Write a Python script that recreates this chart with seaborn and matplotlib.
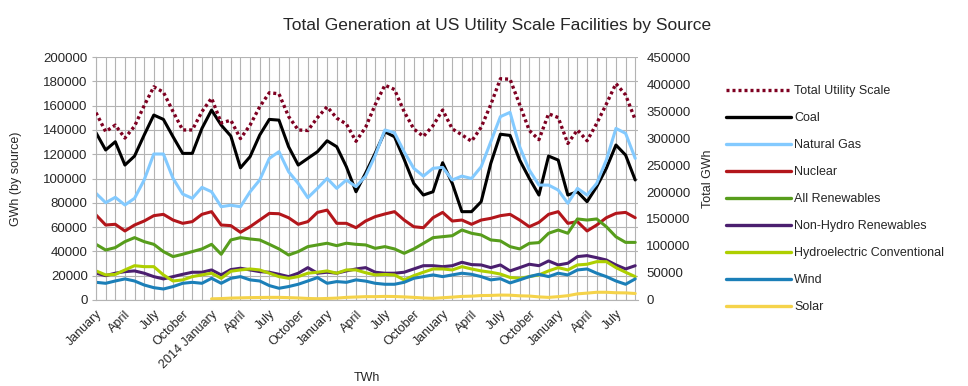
import numpy as np
import pandas as pd
import matplotlib
matplotlib.use("Agg")
import matplotlib.pyplot as plt
import seaborn as sns

# Monthly values, January 2013 - September 2017 (GWh)
total = [347000, 312000, 324000, 300000, 322000, 360000, 395000, 385000, 349000, 315000, 315000, 349000,
         374000, 328000, 333000, 299000, 324000, 358000, 384000, 382000, 340000, 315000, 314000, 338000,
         358000, 337000, 326000, 294000, 320000, 362000, 398000, 390000, 349000, 317000, 303000, 323000,
         352000, 317000, 306000, 294000, 320000, 362000, 410000, 409000, 362000, 314000, 297000, 345000,
         338000, 290000, 315000, 295000, 327000, 363000, 401000, 380000, 334000]
coal = [137700, 123500, 130300, 111100, 118500, 135800, 152300, 148700, 134400, 120700, 120700, 141300,
        156400, 144000, 135000, 108800, 118000, 135800, 148700, 148100, 126200, 111100, 116600, 122100,
        131100, 126200, 109700, 89100, 104500, 121000, 138500, 134400, 115800, 96000, 86400, 89100,
        113000, 96000, 72700, 72700, 80900, 112500, 136500, 135500, 115200, 100100, 86400, 118500,
        115200, 86400, 89100, 80900, 93300, 108400, 127600, 119300, 98800]
natural_gas = [87800, 80100, 84500, 78200, 83700, 98800, 120200, 120200, 100100, 87200, 83700, 92700,
               89100, 76800, 78000, 76800, 89100, 98800, 116600, 122100, 105600, 96000, 84200, 91900,
               100100, 91900, 98800, 93300, 102000, 119000, 140000, 137700, 122000, 108400, 102000, 108400,
               109200, 98800, 102000, 100000, 109700, 130300, 151000, 154500, 126200, 107000, 94600, 94600,
               90500, 79600, 91900, 86400, 96000, 115200, 141300, 137200, 116600]
nuclear = [70000, 61700, 62300, 56800, 61700, 65000, 69400, 70500, 65800, 63100, 64500, 70500,
           72700, 61700, 61200, 55700, 60300, 65800, 71300, 71000, 67700, 62300, 64500, 72100,
           74000, 63100, 63100, 59500, 65000, 68600, 70800, 72700, 65800, 60300, 59500, 67700,
           72100, 65000, 65800, 62300, 65800, 67200, 69400, 70500, 65800, 60300, 63900, 70500,
           72700, 63100, 64500, 56800, 61700, 67700, 71300, 72100, 67700]
all_renewables = [45800, 41100, 43100, 48000, 51300, 48000, 45800, 39800, 35700, 37600, 39800, 42000,
                  45800, 37600, 49400, 51300, 50200, 49400, 45800, 42000, 37000, 39800, 43900, 45300,
                  46700, 44700, 46700, 45800, 45300, 42500, 43900, 42000, 38400, 42000, 46600, 51300,
                  52100, 52900, 57600, 54900, 53500, 49400, 48600, 43900, 42000, 46600, 47200, 54900,
                  57600, 54900, 66700, 65800, 66700, 60300, 52000, 47400, 47400]
non_hydro = [22000, 20000, 22000, 23300, 23900, 22000, 19200, 17300, 19200, 21100, 22800, 22800,
             24700, 20600, 25000, 26100, 24700, 23300, 22800, 21100, 19200, 22000, 26600, 22000,
             22800, 22000, 23900, 25500, 26600, 22800, 22000, 22000, 22800, 25500, 28200, 28200,
             27400, 28200, 31000, 29100, 28800, 26600, 28800, 23900, 26600, 29400, 28200, 32100,
             28800, 30200, 35700, 36500, 34800, 32900, 28800, 25500, 28200]
hydro = [23900, 20600, 21000, 24700, 28200, 27400, 27400, 20600, 15600, 16500, 19200, 20600,
         22000, 17800, 23600, 24700, 25500, 24700, 22000, 19200, 17800, 19200, 22000, 22800,
         23900, 22000, 24700, 24700, 22400, 20600, 21000, 20600, 16500, 20000, 22800, 25500,
         25500, 24700, 27400, 25500, 23900, 22800, 21300, 18500, 17800, 19200, 20600, 23900,
         26600, 24700, 28800, 29400, 31500, 31500, 26600, 22800, 19200]
wind = [14500, 13700, 15600, 17300, 15600, 12300, 10100, 9000, 11000, 13700, 14500, 13700,
        17800, 13700, 17800, 19200, 16500, 15600, 11800, 9600, 11000, 12900, 15600, 18400,
        13700, 15100, 14500, 16500, 15500, 13700, 12900, 12900, 14500, 17800, 19200, 20600,
        19200, 20600, 22000, 21100, 19200, 16500, 17500, 14000, 16500, 19200, 21100, 19200,
        22000, 20600, 24700, 25500, 22000, 19200, 15600, 12900, 17300]
solar = [np.nan] * 12 + [900, 1100, 1500, 1700, 1900, 2000, 2100, 2100, 1900, 1600, 1200, 1000,
                         1200, 1500, 2100, 2400, 2700, 2700, 2900, 2800, 2500, 2100, 1600, 1300,
                         1800, 2300, 2900, 3100, 3600, 3700, 4000, 3900, 3400, 3200, 2500, 2100,
                         2700, 3500, 5000, 5600, 6300, 6300, 5900, 5800, 5300]

tick_labels = ["January", "April", "July", "October", "2014 January", "April", "July", "October",
               "January", "April", "July", "October", "January", "April", "July", "October",
               "January", "April", "July"]

months = np.arange(len(total))
df = pd.DataFrame({
    "month": months,
    "Coal": coal,
    "Natural Gas": natural_gas,
    "Nuclear": nuclear,
    "All Renewables": all_renewables,
    "Non-Hydro Renewables": non_hydro,
    "Hydroelectric Conventional": hydro,
    "Wind": wind,
    "Solar": solar,
    "Total Utility Scale": total,
})

colors = {
    "Coal": "#000000",
    "Natural Gas": "#83caff",
    "Nuclear": "#b3161b",
    "All Renewables": "#579d1c",
    "Non-Hydro Renewables": "#4b1f6f",
    "Hydroelectric Conventional": "#aecf00",
    "Wind": "#1b7fb8",
    "Solar": "#f5d34a",
}

sns.set_style("white")
plt.rcParams["font.family"] = ["Liberation Sans", "DejaVu Sans"]

fig = plt.figure(figsize=(9.68, 3.86), dpi=100)
ax = fig.add_axes([0.0992, 0.223, 0.560, 0.629])
ax2 = ax.twinx()

grid_c = "#b3b3b3"
handles = []
for name, c in colors.items():
    sns.lineplot(data=df, x="month", y=name, ax=ax, color=c, linewidth=2.2, label=name, legend=False)
    handles.append(ax.lines[-1])

sns.lineplot(data=df, x="month", y="Total Utility Scale", ax=ax2, color="#7e0021",
             linewidth=2.4, legend=False)
ax2.lines[-1].set_linestyle((0, (0.9, 0.9)))
total_handle = ax2.lines[-1]

ax.set_xlim(0, 56.3)
ax.set_ylim(0, 200000)
ax2.set_ylim(0, 450000)
ax.set_yticks(np.arange(0, 200001, 20000))
ax2.set_yticks(np.arange(0, 450001, 50000))
ax.set_xticks(np.arange(0, 55, 3))
ax.set_xticks(np.arange(0, 57, 1), minor=True)
ax.set_xticklabels(tick_labels, rotation=45, ha="right", rotation_mode="anchor", fontsize=9)
ax.tick_params(axis="x", which="both", length=4, color=grid_c, pad=2)
ax.tick_params(axis="y", length=3, color=grid_c, labelsize=9.5, pad=3)
ax2.tick_params(axis="y", length=0, labelsize=9.5, pad=6)

ax.grid(True, which="minor", axis="x", color=grid_c, linewidth=0.8)
ax.grid(True, which="major", axis="x", color=grid_c, linewidth=0.8)
ax.grid(True, axis="y", color=grid_c, linewidth=0.8)
ax.set_axisbelow(True)
for sp in ["top", "right"]:
    ax.spines[sp].set_visible(False)
    ax2.spines[sp].set_visible(False)
for sp in ["left", "bottom"]:
    ax.spines[sp].set_color(grid_c)
    ax2.spines[sp].set_visible(False)

ax.set_xlabel("TWh", fontsize=9, labelpad=1)
ax.set_ylabel("GWh (by source)", fontsize=9, labelpad=15)
ax2.set_ylabel("Total GWh", fontsize=9, labelpad=8)

fig.text(0.513, 0.935, "Total Generation at US Utility Scale Facilities by Source",
         ha="center", va="center", fontsize=12.5)

leg = fig.legend([total_handle] + handles,
                 ["Total Utility Scale"] + list(colors.keys()),
                 loc="upper left", bbox_to_anchor=(0.738, 0.808), frameon=False,
                 fontsize=9, handlelength=5.2, handletextpad=0.3, labelspacing=1.2)
for h in leg.legend_handles:
    h.set_linewidth(2.4)

fig.savefig("out.png", dpi=100)
